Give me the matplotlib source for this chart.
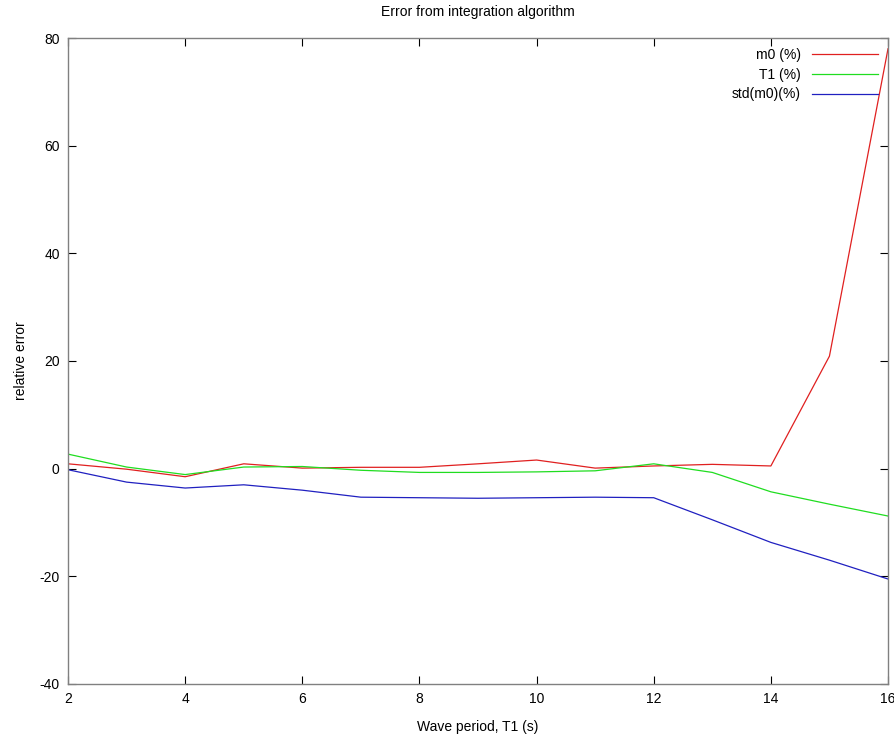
import matplotlib
matplotlib.use("Agg")
import matplotlib.pyplot as plt

plt.rcParams['font.family'] = ['Liberation Sans', 'DejaVu Sans']
plt.rcParams['axes.unicode_minus'] = False

period = [2, 3, 4, 5, 6, 7, 8, 9, 10, 11, 12, 13, 14, 15, 16]
m0_err = [0.9, -0.1, -1.5, 0.9, 0.1, 0.25, 0.25, 0.9, 1.6, 0.1, 0.5, 0.8, 0.5, 20.9, 78.0]
t1_err = [2.7, 0.3, -1.1, 0.3, 0.4, -0.3, -0.7, -0.7, -0.6, -0.4, 0.9, -0.7, -4.3, -6.6, -8.8]
std_m0 = [-0.2, -2.5, -3.6, -3.0, -4.0, -5.3, -5.4, -5.5, -5.4, -5.3, -5.4, -9.5, -13.7, -17.0, -20.5]

fig = plt.figure(figsize=(8.94, 7.38), dpi=100)
ax = fig.add_axes([0.0761, 0.0732, 0.9172, 0.8753])

ax.plot(period, m0_err, color='#e02020', lw=0.9, label='m0 (%)')
ax.plot(period, t1_err, color='#20dd20', lw=0.9, label='T1 (%)')
ax.plot(period, std_m0, color='#2020c0', lw=0.9, label='std(m0)(%)')

ax.set_xlim(2, 16)
ax.set_ylim(-40, 80)
ax.set_xticks(range(2, 17, 2))
ax.set_yticks(range(-40, 81, 20))
ax.tick_params(direction='in', top=True, right=True, length=6, width=0.8,
               labelsize=10, pad=6)
for s in ax.spines.values():
    s.set_color('#808080')
    s.set_linewidth(1.0)

ax.set_title('Error from integration algorithm', fontsize=10, pad=16)
ax.set_xlabel('Wave period, T1 (s)', fontsize=10, labelpad=10)
ax.set_ylabel('relative error', fontsize=10, labelpad=8)

ax.legend(loc='upper right', frameon=False, markerfirst=False, fontsize=10,
          handlelength=4.8, labelspacing=0.42, borderaxespad=0.3,
          handletextpad=0.8)

fig.savefig('out.png', dpi=100)
